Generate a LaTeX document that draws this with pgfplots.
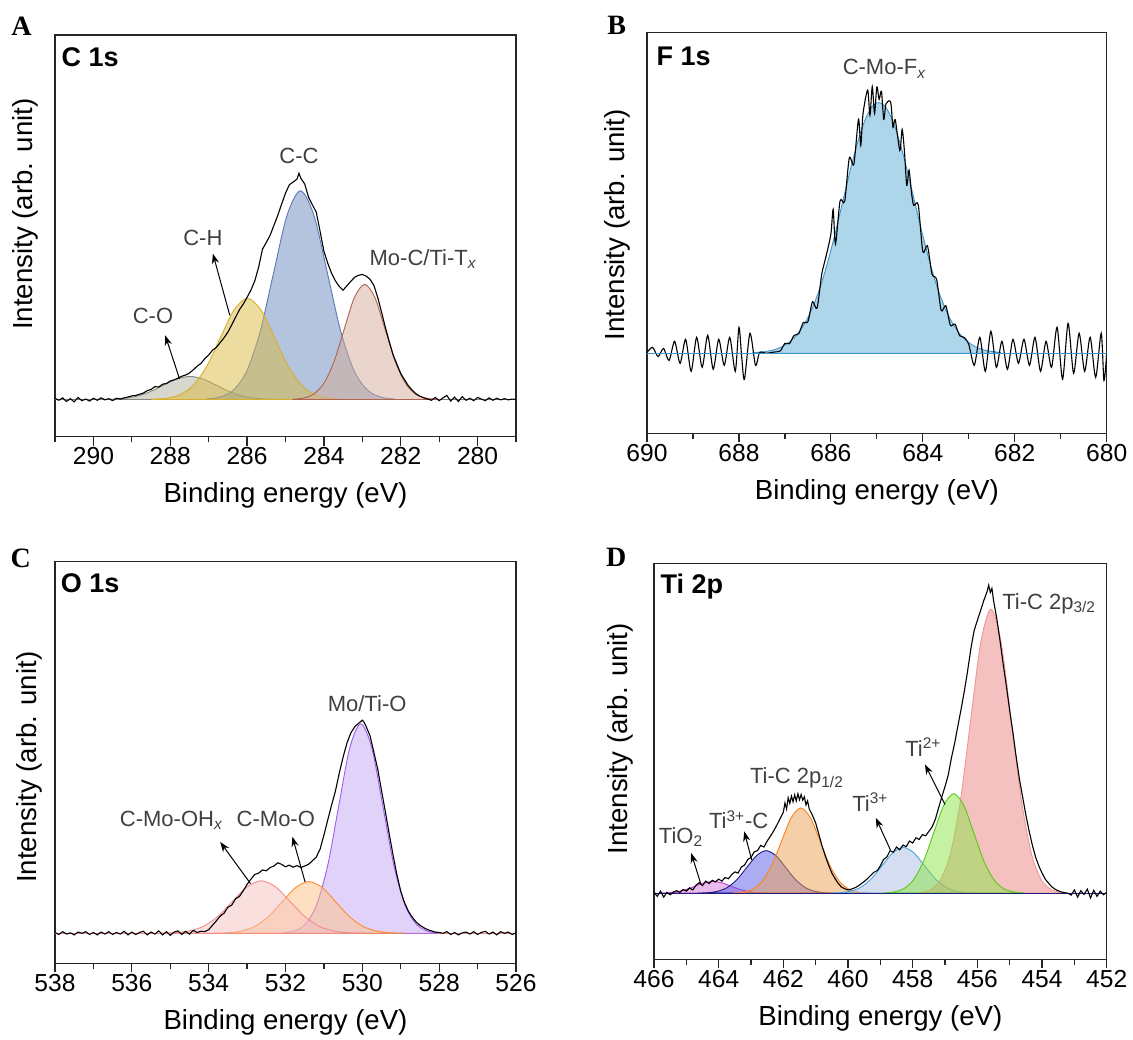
\documentclass[border=0pt]{standalone}
\usepackage{fontspec}
\setmainfont{Liberation Sans}
\newfontfamily\serifb{Liberation Serif}
\usepackage{pgfplots}
\pgfplotsset{compat=1.18}
\usetikzlibrary{arrows.meta}

\definecolor{ccB}{RGB}{105,135,190}\definecolor{ccBd}{RGB}{90,120,180}
\definecolor{chY}{RGB}{218,186,66}\definecolor{chYd}{RGB}{215,175,40}
\definecolor{moC}{RGB}{212,172,152}\definecolor{moCd}{RGB}{175,100,80}
\definecolor{coG}{RGB}{175,175,158}\definecolor{coGd}{RGB}{135,135,125}
\definecolor{fB}{RGB}{174,214,235}\definecolor{fBd}{RGB}{60,150,205}
\definecolor{puC}{RGB}{196,166,246}\definecolor{puCd}{RGB}{160,90,240}
\definecolor{orC}{RGB}{255,192,132}\definecolor{orCd}{RGB}{255,140,40}
\definecolor{piC}{RGB}{245,192,192}\definecolor{piCd}{RGB}{240,140,140}
\definecolor{reD}{RGB}{235,130,130}\definecolor{reDd}{RGB}{240,150,150}
\definecolor{grD}{RGB}{140,228,70}\definecolor{grDd}{RGB}{90,200,20}
\definecolor{lbD}{RGB}{170,190,225}\definecolor{lbDd}{RGB}{70,160,220}
\definecolor{orD}{RGB}{235,160,80}\definecolor{orDd}{RGB}{255,130,30}
\definecolor{nvD}{RGB}{90,90,230}\definecolor{nvDd}{RGB}{30,30,130}
\definecolor{mgD}{RGB}{215,120,215}\definecolor{mgDd}{RGB}{200,60,200}

\pgfplotsset{
 xps/.style={
  scale only axis, x dir=reverse, xtick distance=2, minor x tick num=1,
  tick align=outside, xtick pos=lower, ytick=\empty,
  major tick length=4.5pt, minor tick length=2.8pt,
  axis line style={line width=0.6pt, black!85},
  tick style={line width=0.6pt, black!85},
  /pgf/number format/assume math mode=true,
  tick label style={font=\fontsize{12.3}{14}\selectfont},
  xticklabel style={yshift=2.5pt},
  label style={font=\fontsize{13.8}{16}\selectfont},
  xlabel={Binding energy (eV)},
  ylabel={Intensity (arb. unit)},
  xlabel style={at={(axis description cs:0.5,0)}, anchor=base, yshift=-33pt},
  no markers,
 },
 comp/.style={smooth, line width=0.45pt, fill opacity=0.5},
 dat/.style={black, line width=0.55pt, sharp plot},
}

\begin{document}
\begin{tikzpicture}[
  lab/.style={font=\fontsize{11}{13}\selectfont, text=black!75, inner sep=0pt},
  ttl/.style={font=\bfseries\fontsize{13.5}{16}\selectfont, inner sep=0pt},
  arr/.style={-{Stealth[length=5pt,width=3.6pt]}, line width=0.5pt, black},
  let/.style={font=\serifb\bfseries\fontsize{14}{16}\selectfont, inner sep=0pt}]
\path[use as bounding box] (0pt,0pt) rectangle (566.5pt,-519.5pt);

% ---------------- A: C 1s
\begin{axis}[xps, at={(27.5pt,-218.35pt)}, anchor=south west,
  width=230.5pt, height=200.85pt, xmin=279, xmax=291, ymin=-9.3, ymax=91,
  ylabel style={at={(axis description cs:-0.065,0.554)}, anchor=center}]
\addplot[gray, line width=0.4pt] coordinates {(291,0) (279,0)};
\addplot[comp, draw=coGd, fill=coG] coordinates {(289.94,0.01)(289.59,0.06)(289.24,0.25)(288.89,0.78)(288.54,1.87)(288.19,3.49)(287.84,5.07)(287.49,5.75)(287.14,5.07)(286.79,3.49)(286.44,1.87)(286.09,0.78)(285.74,0.25)(285.39,0.06)(285.04,0.01)} \closedcycle;
\addplot[comp, draw=ccBd, fill=ccB] coordinates {(287.06,0.11)(286.71,0.58)(286.36,2.29)(286.01,7.05)(285.66,16.92)(285.31,31.60)(284.96,45.98)(284.61,52.1)(284.26,45.98)(283.91,31.60)(283.56,16.92)(283.21,7.05)(282.86,2.29)(282.51,0.58)(282.16,0.11)} \closedcycle;
\addplot[comp, draw=chYd, fill=chY] coordinates {(288.475,0.06)(288.12,0.28)(287.765,1.11)(287.41,3.42)(287.055,8.20)(286.70,15.31)(286.345,22.28)(285.99,25.25)(285.635,22.28)(285.28,15.31)(284.925,8.20)(284.57,3.42)(284.215,1.11)(283.86,0.28)(283.505,0.06)} \closedcycle;
\addplot[comp, draw=moCd, fill=moC] coordinates {(284.81,0.06)(284.545,0.32)(284.28,1.26)(284.01,3.89)(283.74,9.34)(283.475,17.44)(283.21,25.37)(282.94,28.75)(282.67,25.37)(282.405,17.44)(282.14,9.34)(281.87,3.89)(281.60,1.26)(281.335,0.32)(281.07,0.06)} \closedcycle;
\addplot[dat] coordinates {(291.0,0.3)(290.9,-0.2)(290.8,0.4)(290.7,-0.5)(290.6,0.2)(290.5,-0.6)(290.4,0.5)(290.3,-0.3)(290.2,0.1)(290.1,-0.4)(290.0,0.3)(289.9,-0.2)(289.8,0.4)(289.7,-0.1)(289.6,0.2)(289.5,-0.3)(289.4,0.3)(289.3,0.1)(289.2,0.4)(289.1,0.6)(289.0,0.9)(288.9,1.0)(288.8,1.3)(288.7,1.6)(288.6,2.2)(288.5,2.5)(288.4,3.2)(288.3,3.1)(288.2,3.8)(288.1,4.0)(288.0,4.6)(287.9,4.9)(287.8,5.3)(287.7,5.8)(287.6,6.1)(287.5,6.6)(287.4,7.4)(287.3,8.3)(287.2,9.0)(287.1,10.2)(287.0,11.1)(286.9,12.3)(286.8,13.0)(286.7,14.2)(286.6,15.4)(286.5,16.8)(286.4,18.6)(286.3,20.5)(286.2,22.4)(286.1,23.8)(286.0,25.5)(285.9,27.3)(285.8,29.6)(285.7,33.0)(285.6,37.5)(285.5,39.2)(285.4,41.0)(285.3,43.5)(285.2,46.0)(285.1,48.8)(285.0,51.5)(284.9,53.6)(284.8,54.3)(284.7,55.0)(284.65,56.5)(284.6,55.2)(284.5,53.8)(284.4,50.5)(284.3,48.6)(284.2,46.8)(284.1,42.0)(284.0,37.0)(283.9,34.0)(283.8,31.5)(283.7,29.6)(283.6,28.2)(283.5,27.3)(283.4,28.4)(283.3,29.5)(283.2,30.5)(283.1,31.0)(283.0,31.2)(282.9,30.8)(282.8,30.0)(282.7,28.5)(282.6,25.5)(282.5,21.8)(282.4,18.0)(282.3,14.5)(282.2,11.2)(282.1,8.8)(282.0,6.5)(281.9,4.9)(281.8,3.4)(281.7,2.3)(281.6,1.4)(281.5,0.8)(281.4,0.4)(281.3,0.1)(281.2,-0.2)(281.1,0.5)(281.0,-0.3)(280.9,0.4)(280.8,1.0)(280.7,-0.4)(280.6,0.6)(280.5,-0.5)(280.4,0.7)(280.3,-0.2)(280.2,0.3)(280.1,-0.3)(280.0,0.5)(279.9,0.1)(279.8,-0.3)(279.7,0.4)(279.6,-0.2)(279.5,0.3)(279.4,-0.1)(279.3,0.2)(279.2,-0.1)(279.1,0.1)(279.0,0.0)};
\node[lab,anchor=base] at (axis cs:284.65,58.9) {C-C};
\node[lab,anchor=base] at (axis cs:287.15,38.5) {C-H};
\node[lab,anchor=base] at (axis cs:288.45,18.9) {C-O};
\node[lab,anchor=base west] at (axis cs:282.82,33.5) {Mo-C/Ti-T\textsubscript{\textit{x}}};
\draw[arr] (axis cs:286.45,21) -- (axis cs:286.89,36.4);
\draw[arr] (axis cs:287.76,5.2) -- (axis cs:288.13,16);
\node[ttl,anchor=base west] at (axis cs:290.84,83.1) {C 1s};
\end{axis}

% ---------------- B: F 1s
\begin{axis}[xps, at={(323.5pt,-216.65pt)}, anchor=south west,
  width=229.85pt, height=200.5pt, xmin=680, xmax=690, ymin=-20, ymax=80.25,
  ylabel style={at={(axis description cs:-0.065,0.52)}, anchor=center}]
\addplot[comp, draw=fBd, fill=fB, fill opacity=1] coordinates {(687.7,0.13)(687.4,0.47)(687.2,1.01)(687.1,1.46)(687.0,2.05)(686.9,2.85)(686.8,3.88)(686.7,5.21)(686.6,6.87)(686.5,8.93)(686.4,11.41)(686.3,14.33)(686.2,17.72)(686.1,21.54)(686.0,25.78)(685.9,30.33)(685.8,35.11)(685.7,39.98)(685.6,44.77)(685.5,49.33)(685.4,53.48)(685.3,57.02)(685.2,59.80)(685.1,61.70)(685.0,62.62)(684.9,62.51)(684.8,61.38)(684.7,59.30)(684.6,56.37)(684.5,52.67)(684.4,48.47)(684.3,43.83)(684.2,39.00)(684.1,34.11)(684.0,29.41)(683.9,24.89)(683.8,20.75)(683.7,16.99)(683.6,13.73)(683.5,10.85)(683.4,8.46)(683.3,6.52)(683.2,4.92)(683.1,3.66)(683.0,2.67)(682.9,1.92)(682.8,1.36)(682.6,0.64)(682.3,0.19)} \closedcycle;
\addplot[black, line width=0.55pt, smooth, tension=0.45] coordinates {(690.00,0.2)(689.88,1.5)(689.76,-0.8)(689.64,1.2)(689.52,-1.8)(689.40,3.0)(689.28,-2.5)(689.16,3.5)(689.04,-4.5)(688.92,4.0)(688.80,-3.5)(688.68,4.5)(688.56,-4.0)(688.44,3.5)(688.32,-3.0)(688.20,4.0)(688.08,-4.5)(688.00,6.5)(687.94,-1.0)(687.88,-6.5)(687.76,5.0)(687.64,-3.0)(687.55,0.2)(687.40,0.0)(687.25,0.3)(687.10,0.6)(687.0,2.5)(686.9,2.4)(686.8,4.5)(686.7,4.9)(686.6,7.7)(686.5,7.9)(686.4,12.9)(686.3,11.3)(686.2,19.7)(686.1,24.5)(686.0,29.8)(685.95,36.0)(685.9,27.3)(685.8,38.1)(685.7,38.0)(685.6,48.8)(685.5,47.3)(685.4,58.5)(685.35,52.0)(685.3,60.0)(685.2,65.8)(685.15,59.5)(685.1,66.7)(685.05,60.0)(685.0,66.6)(684.95,63.5)(684.9,65.5)(684.85,58.5)(684.8,62.4)(684.7,62.8)(684.65,56.5)(684.6,58.4)(684.5,50.7)(684.45,56.0)(684.4,50.5)(684.35,42.0)(684.3,45.8)(684.25,40.5)(684.2,37.0)(684.1,37.1)(684.0,25.4)(683.9,26.9)(683.8,19.8)(683.7,18.5)(683.6,10.7)(683.5,11.9)(683.4,7.0)(683.3,7.3)(683.2,4.4)(683.1,4.0)(683.0,2.2)(682.88,-3.0)(682.76,4.0)(682.64,-4.5)(682.52,5.5)(682.40,-3.5)(682.28,3.0)(682.16,-4.0)(682.04,3.5)(681.92,-2.5)(681.80,3.5)(681.68,-3.0)(681.56,4.0)(681.44,-4.5)(681.32,3.0)(681.20,-3.5)(681.08,6.5)(680.96,-6.5)(680.84,7.5)(680.72,-5.0)(680.60,5.0)(680.48,-4.5)(680.36,4.0)(680.24,-6.0)(680.12,5.0)(680.06,-6.8)(680.00,0.0)};
\addplot[fBd, line width=0.6pt] coordinates {(690,0) (680,0)};
\node[lab,anchor=base west] at (axis cs:685.75,69.6) {C-Mo-F\textsubscript{\textit{x}}};
\node[ttl,anchor=base west] at (axis cs:689.8,71.9) {F 1s};
\end{axis}

% ---------------- C: O 1s
\begin{axis}[xps, at={(27.5pt,-481.65pt)}, anchor=south west,
  width=230.5pt, height=200.8pt, xmin=526, xmax=538, ymin=-7.5, ymax=92.75,
  ylabel style={at={(axis description cs:-0.055,0.488)}, anchor=center}]
\addplot[piCd, line width=0.5pt] coordinates {(538,0) (526,0)};
\addplot[comp, draw=puCd, fill=puC] coordinates {(532.05,0.12)(531.765,0.58)(531.48,2.30)(531.19,7.08)(530.90,16.98)(530.615,31.72)(530.33,46.15)(530.04,52.3)(529.75,46.15)(529.465,31.72)(529.18,16.98)(528.89,7.08)(528.60,2.30)(528.315,0.58)(528.03,0.12)} \closedcycle;
\addplot[comp, draw=orCd, fill=orC] coordinates {(533.84,0.03)(533.49,0.14)(533.14,0.57)(532.79,1.75)(532.44,4.19)(532.09,7.82)(531.74,11.38)(531.39,12.9)(531.04,11.38)(530.69,7.82)(530.34,4.19)(529.99,1.75)(529.64,0.57)(529.29,0.14)(528.94,0.03)} \closedcycle;
\addplot[comp, draw=piCd, fill=piC] coordinates {(535.255,0.03)(534.88,0.15)(534.505,0.58)(534.13,1.77)(533.755,4.25)(533.38,7.95)(533.005,11.56)(532.63,13.1)(532.255,11.56)(531.88,7.95)(531.505,4.25)(531.13,1.77)(530.755,0.58)(530.38,0.15)(530.005,0.03)} \closedcycle;
\addplot[dat] coordinates {(538.0,0.2)(537.9,-0.3)(537.8,0.4)(537.7,-0.2)(537.6,0.1)(537.5,-0.4)(537.4,0.3)(537.3,0.0)(537.2,0.4)(537.1,-0.3)(537.0,0.2)(536.9,-0.4)(536.8,0.3)(536.7,-0.2)(536.6,0.4)(536.5,-0.3)(536.4,0.2)(536.3,-0.2)(536.2,0.5)(536.1,-0.4)(536.0,0.3)(535.9,-0.3)(535.8,0.2)(535.7,0.5)(535.6,-0.4)(535.5,0.3)(535.4,-0.2)(535.3,0.6)(535.2,-0.4)(535.1,0.4)(535.0,-0.5)(534.9,0.3)(534.8,0.6)(534.7,-0.3)(534.6,0.5)(534.5,-0.2)(534.4,0.7)(534.3,0.2)(534.2,0.5)(534.1,0.4)(534.0,0.9)(533.9,2.0)(533.8,3.1)(533.7,4.3)(533.6,5.0)(533.5,6.5)(533.4,7.0)(533.3,8.6)(533.2,9.2)(533.1,10.6)(533.0,12.2)(532.9,13.5)(532.8,14.7)(532.7,15.0)(532.6,15.8)(532.5,15.6)(532.4,16.4)(532.3,16.8)(532.2,17.6)(532.1,17.2)(532.0,16.6)(531.9,17.0)(531.8,16.5)(531.7,16.9)(531.6,16.4)(531.5,16.8)(531.4,17.2)(531.3,18.1)(531.2,19.0)(531.1,21.0)(531.0,24.5)(530.9,28.3)(530.8,32.0)(530.7,35.5)(530.6,40.0)(530.5,44.0)(530.4,47.5)(530.3,50.0)(530.2,51.5)(530.1,52.4)(530.0,53.2)(529.95,52.6)(529.9,51.6)(529.8,49.3)(529.7,45.2)(529.6,41.0)(529.5,35.6)(529.4,30.3)(529.3,24.8)(529.2,19.5)(529.1,14.6)(529.0,10.5)(528.9,7.6)(528.8,5.5)(528.7,4.0)(528.6,2.8)(528.5,2.0)(528.4,1.4)(528.3,0.9)(528.2,0.6)(528.1,0.3)(528.0,0.2)(527.9,0.0)(527.8,0.4)(527.7,-0.3)(527.6,0.2)(527.5,-0.4)(527.4,0.1)(527.3,0.3)(527.2,-0.2)(527.1,0.4)(527.0,-0.3)(526.9,0.2)(526.8,0.5)(526.7,-0.2)(526.6,0.3)(526.5,-0.4)(526.4,0.4)(526.3,0.0)(526.2,0.3)(526.1,-0.3)(526.0,0.1)};
\node[lab,anchor=base] at (axis cs:529.875,55.3) {Mo/Ti-O};
\node[lab,anchor=base west] at (axis cs:536.32,26.75) {C-Mo-OH\textsubscript{\textit{x}}};
\node[lab,anchor=base west] at (axis cs:533.28,26.75) {C-Mo-O};
\draw[arr] (axis cs:532.91,12.4) -- (axis cs:533.70,22.8);
\draw[arr] (axis cs:531.49,12.8) -- (axis cs:531.82,24.1);
\node[ttl,anchor=base west] at (axis cs:537.86,85.1) {O 1s};
\end{axis}

% ---------------- D: Ti 2p
\begin{axis}[xps, at={(327pt,-479.65pt)}, anchor=south west,
  width=226.35pt, height=198pt, xmin=452, xmax=466, ymin=-16.5, ymax=82.25,
  ylabel style={at={(axis description cs:-0.074,0.557)}, anchor=center}]
\addplot[comp, draw=mgDd, fill=mgD] coordinates {(465.82,0.03)(465.545,0.13)(465.27,0.39)(464.995,0.94)(464.72,1.76)(464.445,2.56)(464.17,2.9)(463.895,2.56)(463.62,1.76)(463.345,0.94)(463.07,0.39)(462.795,0.13)(462.52,0.03)} \closedcycle;
\addplot[comp, draw=nvDd, fill=nvD] coordinates {(464.63,0.02)(464.33,0.12)(464.03,0.47)(463.73,1.43)(463.43,3.44)(463.13,6.43)(462.83,9.35)(462.53,10.6)(462.23,9.35)(461.93,6.43)(461.63,3.44)(461.33,1.43)(461.03,0.47)(460.73,0.12)(460.43,0.02)} \closedcycle;
\addplot[comp, draw=orDd, fill=orD] coordinates {(463.56,0.05)(463.26,0.24)(462.96,0.93)(462.66,2.88)(462.36,6.90)(462.06,12.89)(461.76,18.75)(461.46,21.25)(461.16,18.75)(460.86,12.89)(460.56,6.90)(460.26,2.88)(459.96,0.93)(459.66,0.24)(459.36,0.05)} \closedcycle;
\addplot[comp, draw=lbDd, fill=lbD] coordinates {(460.565,0.03)(460.24,0.13)(459.915,0.50)(459.59,1.54)(459.265,3.70)(458.94,6.91)(458.615,10.06)(458.29,11.4)(457.965,10.06)(457.64,6.91)(457.315,3.70)(456.99,1.54)(456.665,0.50)(456.34,0.13)(456.015,0.03)} \closedcycle;
\addplot[comp, draw=reDd, fill=reD] coordinates {(457.785,0.16)(457.47,0.79)(457.155,3.11)(456.84,9.58)(456.525,22.99)(456.21,42.94)(455.895,62.48)(455.58,70.8)(455.265,62.48)(454.95,42.94)(454.635,22.99)(454.32,9.58)(454.005,3.11)(453.69,0.79)(453.375,0.16)} \closedcycle;
\addplot[comp, draw=grDd, fill=grD] coordinates {(458.90,0.05)(458.59,0.28)(458.28,1.09)(457.97,3.36)(457.66,8.05)(457.35,15.04)(457.04,21.89)(456.73,24.8)(456.42,21.89)(456.11,15.04)(455.80,8.05)(455.49,3.36)(455.18,1.09)(454.87,0.28)(454.56,0.05)} \closedcycle;
\addplot[nvDd, line width=0.5pt] coordinates {(466,0) (452,0)};
\addplot[dat] coordinates {(466.0,0.3)(465.9,-0.8)(465.8,0.5)(465.7,-1.0)(465.6,0.2)(465.5,-0.4)(465.4,0.3)(465.3,0.6)(465.2,0.2)(465.1,0.9)(465.0,0.5)(464.9,1.3)(464.8,0.8)(464.7,2.0)(464.6,2.6)(464.5,1.9)(464.4,3.0)(464.3,2.4)(464.2,3.2)(464.1,2.8)(464.0,3.5)(463.9,3.0)(463.8,3.9)(463.7,3.6)(463.6,4.6)(463.5,5.3)(463.4,5.0)(463.3,6.5)(463.2,7.0)(463.1,8.4)(463.0,8.9)(462.9,10.3)(462.8,10.6)(462.7,11.9)(462.6,11.5)(462.5,13.0)(462.4,14.2)(462.3,15.5)(462.2,17.0)(462.1,18.6)(462.0,20.2)(461.95,22.5)(461.9,21.0)(461.85,23.8)(461.8,22.4)(461.75,24.2)(461.7,22.8)(461.65,24.5)(461.6,23.0)(461.55,24.8)(461.5,23.3)(461.45,24.6)(461.4,23.2)(461.35,24.0)(461.3,22.0)(461.25,23.0)(461.2,21.0)(461.1,19.4)(461.0,17.5)(460.9,14.6)(460.8,11.7)(460.7,9.2)(460.6,7.0)(460.5,5.0)(460.4,3.6)(460.3,2.4)(460.2,1.5)(460.1,1.1)(460.0,0.8)(459.9,1.0)(459.8,1.3)(459.7,1.7)(459.6,2.3)(459.5,2.9)(459.4,3.6)(459.3,4.4)(459.2,5.2)(459.1,5.6)(459.0,6.8)(458.9,8.4)(458.8,9.0)(458.7,10.6)(458.6,10.2)(458.5,11.5)(458.4,10.8)(458.3,12.0)(458.2,11.6)(458.1,13.0)(458.0,12.5)(457.9,13.8)(457.8,13.4)(457.7,14.6)(457.6,14.3)(457.5,15.4)(457.4,16.5)(457.3,18.4)(457.2,21.2)(457.1,24.0)(457.0,26.6)(456.9,29.5)(456.8,33.8)(456.7,37.5)(456.6,41.8)(456.5,46.0)(456.4,50.5)(456.3,55.5)(456.2,61.0)(456.1,65.5)(456.0,68.0)(455.9,70.5)(455.8,73.0)(455.7,75.2)(455.65,76.8)(455.6,75.0)(455.55,76.0)(455.5,73.0)(455.4,68.5)(455.3,63.0)(455.2,57.0)(455.1,51.5)(455.0,45.5)(454.9,40.0)(454.8,34.0)(454.7,28.5)(454.6,24.0)(454.5,19.5)(454.4,15.5)(454.3,12.0)(454.2,9.0)(454.1,6.8)(454.0,5.0)(453.9,3.5)(453.8,2.5)(453.7,1.6)(453.6,1.0)(453.5,0.6)(453.4,0.3)(453.3,0.1)(453.2,0.0)(453.1,-0.5)(453.0,0.8)(452.9,-1.0)(452.8,0.6)(452.7,-0.3)(452.6,1.0)(452.5,-1.2)(452.4,0.7)(452.3,-0.8)(452.2,0.5)(452.1,-0.4)(452.0,0.2)};
\node[lab,anchor=base west] at (axis cs:455.24,70.8) {Ti-C 2p\textsubscript{3/2}};
\node[lab,anchor=base west] at (axis cs:458.24,34) {Ti\textsuperscript{2+}};
\node[lab,anchor=base west] at (axis cs:459.88,20.4) {Ti\textsuperscript{3+}};
\node[lab,anchor=base west] at (axis cs:463.04,27.3) {Ti-C 2p\textsubscript{1/2}};
\node[lab,anchor=base west] at (axis cs:464.31,16) {Ti\textsuperscript{3+}-C};
\node[lab,anchor=base west] at (axis cs:465.86,12.5) {TiO\textsubscript{2}};
\draw[arr] (axis cs:457.0,22.1) -- (axis cs:457.62,32.1);
\draw[arr] (axis cs:458.69,10.8) -- (axis cs:459.14,18.75);
\draw[arr] (axis cs:462.98,8.3) -- (axis cs:463.21,15.4);
\draw[arr] (axis cs:464.56,2.5) -- (axis cs:464.85,10);
\node[ttl,anchor=base west] at (axis cs:465.81,74.8) {Ti 2p};
\end{axis}

\node[let] at (10.75pt,-13.35pt) {A};
\node[let] at (308.35pt,-12.85pt) {B};
\node[let] at (10.35pt,-279.15pt) {C};
\node[let] at (308.15pt,-278.65pt) {D};
\end{tikzpicture}
\end{document}
